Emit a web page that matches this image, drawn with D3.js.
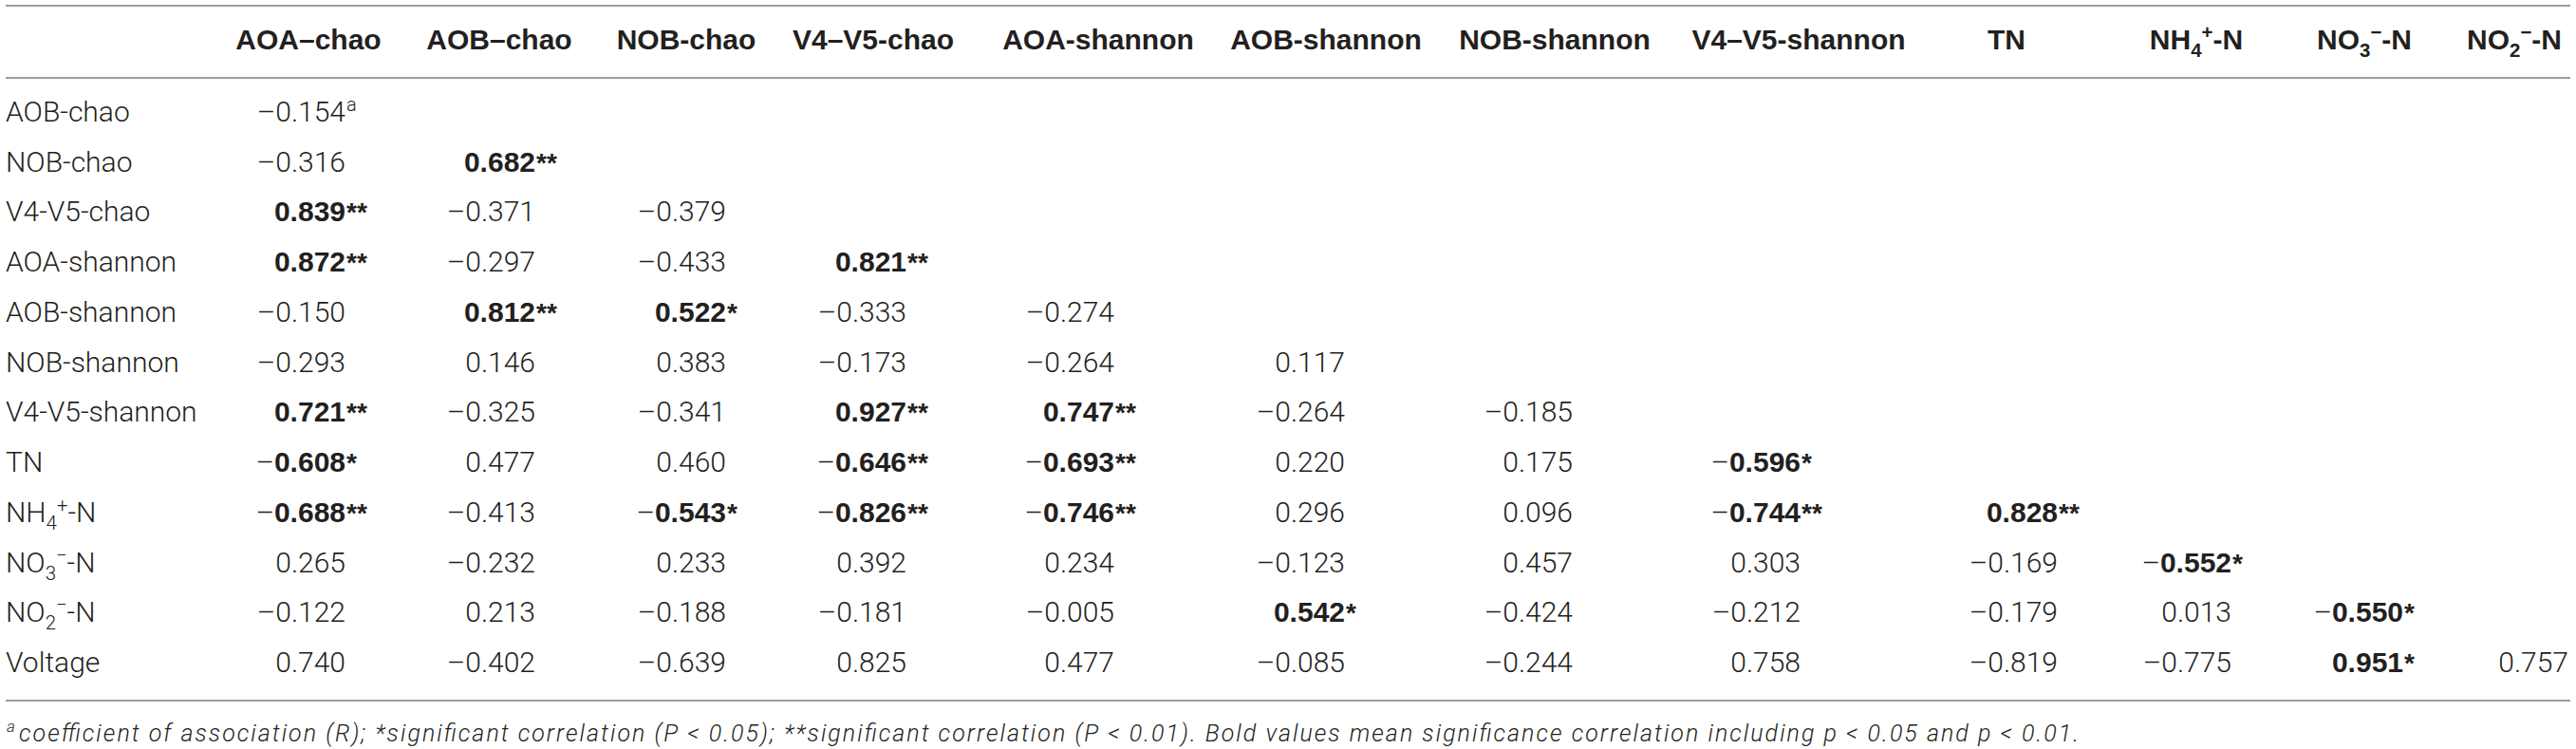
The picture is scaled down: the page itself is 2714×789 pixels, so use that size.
<!DOCTYPE html>
<html>
<head>
<meta charset="utf-8">
<script src="https://cdn.jsdelivr.net/npm/d3@7"></script>
<style>
  body { margin: 0; background: #fff; }
</style>
</head>
<body>
<div id="chart"></div>
<script>
// column headers and row labels ( _x = subscript, ^x = superscript )
const columns = ["AOA–chao", "AOB–chao", "NOB-chao", "V4–V5-chao", "AOA-shannon", "AOB-shannon",
  "NOB-shannon", "V4–V5-shannon", "TN", "NH_4^+-N", "NO_3^−-N", "NO_2^−-N"];
const rows = ["AOB-chao", "NOB-chao", "V4-V5-chao", "AOA-shannon", "AOB-shannon", "NOB-shannon",
  "V4-V5-shannon", "TN", "NH_4^+-N", "NO_3^−-N", "NO_2^−-N", "Voltage"];

// correlation coefficients (lower triangle)
const values = [
  [-0.154],
  [-0.316, 0.682],
  [0.839, -0.371, -0.379],
  [0.872, -0.297, -0.433, 0.821],
  [-0.150, 0.812, 0.522, -0.333, -0.274],
  [-0.293, 0.146, 0.383, -0.173, -0.264, 0.117],
  [0.721, -0.325, -0.341, 0.927, 0.747, -0.264, -0.185],
  [-0.608, 0.477, 0.460, -0.646, -0.693, 0.220, 0.175, -0.596],
  [-0.688, -0.413, -0.543, -0.826, -0.746, 0.296, 0.096, -0.744, 0.828],
  [0.265, -0.232, 0.233, 0.392, 0.234, -0.123, 0.457, 0.303, -0.169, -0.552],
  [-0.122, 0.213, -0.188, -0.181, -0.005, 0.542, -0.424, -0.212, -0.179, 0.013, -0.550],
  [0.740, -0.402, -0.639, 0.825, 0.477, -0.085, -0.244, 0.758, -0.819, -0.775, 0.951, 0.757]
];
// significance marks ("a" = footnote marker)
const marks = [
  ["a"],
  ["", "**"],
  ["**", "", ""],
  ["**", "", "", "**"],
  ["", "**", "*", "", ""],
  ["", "", "", "", "", ""],
  ["**", "", "", "**", "**", "", ""],
  ["*", "", "", "**", "**", "", "", "*"],
  ["**", "", "*", "**", "**", "", "", "**", "**"],
  ["", "", "", "", "", "", "", "", "", "*"],
  ["", "", "", "", "", "*", "", "", "", "", "*"],
  ["", "", "", "", "", "", "", "", "", "", "*", ""]
];
const footnote = "coefficient of association (R); *significant correlation (P < 0.05); **significant correlation (P < 0.01). Bold values mean significance correlation including p < 0.05 and p < 0.01.";

const width = 2714, height = 789;
const ink = "#231f20";
const bodyFont = "Roboto, 'Liberation Sans', sans-serif";
const headFont = "'Liberation Sans', Arial, sans-serif";

const svg = d3.select("#chart").append("svg")
  .attr("width", width)
  .attr("height", height)
  .style("display", "block");

// column positions: header centres and number right edges
const colIdx = d3.range(columns.length);
const headX = d3.scaleOrdinal().domain(colIdx)
  .range([325, 526, 723, 920, 1157, 1397, 1638, 1895, 2114, 2314, 2491, 2649]);
const numX = d3.scaleOrdinal().domain(colIdx)
  .range([364, 564, 765, 955, 1174, 1417, 1657, 1897, 2168, 2351, 2532, 2706]);
const rowY = d3.scalePoint().domain(d3.range(rows.length)).range([128, 708]);

// write a label with _sub and ^sup parts into a text element
function richLabel(sel, label, size) {
  const parts = label.split(/([_^].)/).filter(p => p !== "");
  let shift = 0;
  parts.forEach(p => {
    let target = 0, txt = p, fs = size;
    if (p[0] === "_") { target = size * 0.27; txt = p[1]; fs = size * 0.68; }
    else if (p[0] === "^") { target = -size * 0.36; txt = p[1]; fs = size * 0.68; }
    sel.append("tspan")
      .attr("dy", target - shift)
      .style("font-size", fs + "px")
      .text(txt);
    shift = target;
  });
}

// rules
[6, 82, 738].forEach(y => {
  svg.append("line")
    .attr("x1", 6).attr("x2", 2708)
    .attr("y1", y).attr("y2", y)
    .attr("stroke", "#9d9d9d")
    .attr("stroke-width", 2);
});

// header
svg.append("g").selectAll("text")
  .data(columns)
  .join("text")
  .attr("x", (d, i) => headX(i))
  .attr("y", 52)
  .attr("text-anchor", "middle")
  .attr("fill", ink)
  .style("font-family", headFont)
  .style("font-weight", "bold")
  .style("font-size", "30px")
  .each(function (d) { richLabel(d3.select(this), d, 30); });

// row labels
svg.append("g").selectAll("text")
  .data(rows)
  .join("text")
  .attr("x", 6)
  .attr("y", (d, i) => rowY(i))
  .attr("fill", ink)
  .style("font-family", bodyFont)
  .style("font-weight", 300)
  .style("font-size", "30px")
  .each(function (d) { richLabel(d3.select(this), d, 30); });

// cells
const cells = [];
values.forEach((r, ri) => r.forEach((v, ci) => cells.push({ r: ri, c: ci, v: v, m: marks[ri][ci] })));
const bold = d => d.m === "*" || d.m === "**";

const cellG = svg.append("g").selectAll("g")
  .data(cells)
  .join("g")
  .attr("transform", d => `translate(${numX(d.c)},${rowY(d.r)})`);

const num = cellG.append("text")
  .attr("text-anchor", "end")
  .attr("fill", ink)
  .style("font-size", "30px");
num.filter(d => d.v < 0).append("tspan")
  .style("font-family", bodyFont)
  .style("font-weight", 300)
  .text("–");
num.append("tspan")
  .style("font-family", d => bold(d) ? headFont : bodyFont)
  .style("font-weight", d => bold(d) ? "bold" : 300)
  .text(d => Math.abs(d.v).toFixed(3));

cellG.filter(d => d.m !== "").append("text")
  .attr("x", 1)
  .attr("dy", d => d.m === "a" ? -11 : 0)
  .attr("fill", ink)
  .style("font-family", d => d.m === "a" ? bodyFont : headFont)
  .style("font-weight", d => d.m === "a" ? 300 : "bold")
  .style("font-size", d => d.m === "a" ? "20px" : "28px")
  .text(d => d.m);

// footnote
const fnG = svg.append("g")
  .attr("fill", ink)
  .style("font-family", bodyFont)
  .style("font-weight", 300)
  .style("font-style", "italic");
fnG.append("text")
  .attr("x", 7)
  .attr("y", 771)
  .style("font-size", "17px")
  .text("a");
fnG.append("text")
  .attr("x", 20)
  .attr("y", 781)
  .attr("textLength", 2170)
  .attr("lengthAdjust", "spacing")
  .style("font-size", "25px")
  .text(footnote);
</script>
</body>
</html>
